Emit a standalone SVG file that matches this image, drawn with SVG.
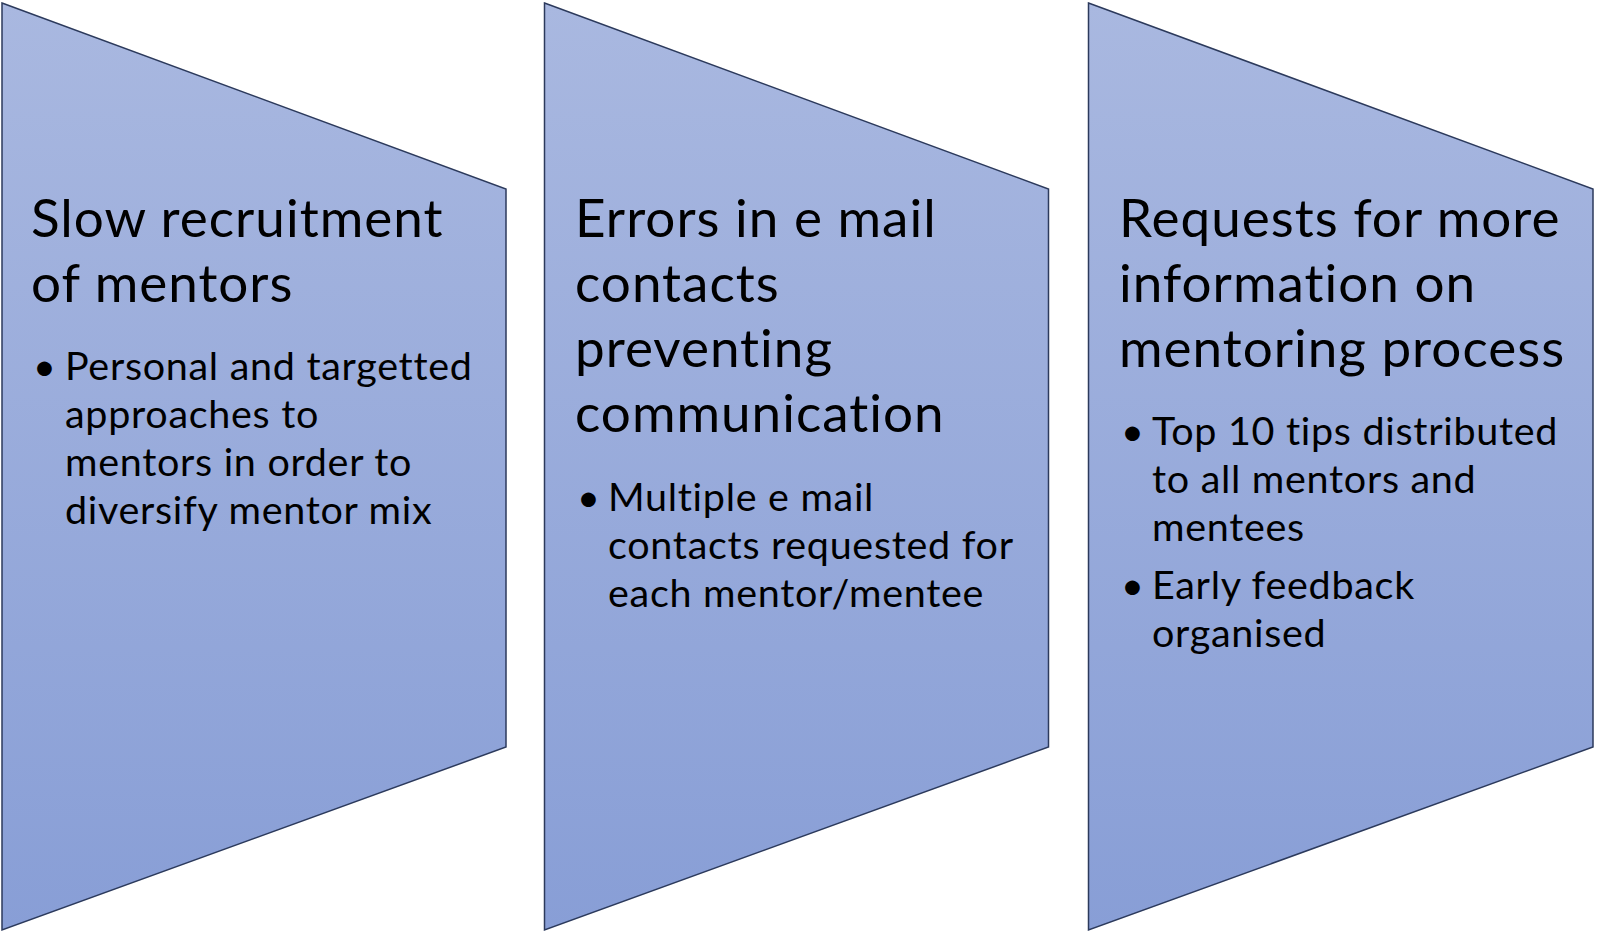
<svg xmlns="http://www.w3.org/2000/svg" width="1601" height="933" viewBox="0 0 1601 933">
  <defs>
    <linearGradient id="fillGrad" x1="0" y1="0" x2="0" y2="1">
      <stop offset="0" stop-color="#a9b8e0"/>
      <stop offset="1" stop-color="#889ed6"/>
    </linearGradient>
    <style>
      .shape { fill: url(#fillGrad); stroke: #2c3a5c; stroke-width: 1.5; stroke-linejoin: miter; }
      .title { font-family: Lato, "Liberation Sans", sans-serif; font-size: 53px; letter-spacing: 1px; fill: #000; }
      .bullet { font-family: Lato, "Liberation Sans", sans-serif; font-size: 39.5px; letter-spacing: 0.7px; fill: #000; }
    </style>
  </defs>
  <rect width="1601" height="933" fill="#ffffff"/>
  <g id="connectors"></g>
  <g id="node1">
    <polygon class="shape" points="2,3 506,189 506,747 2,930"/>
    <text class="title" x="31" y="237">Slow recruitment</text>
    <text class="title" x="31" y="302">of mentors</text>
    <text class="bullet" x="33" y="380">•</text>
    <text class="bullet" x="65" y="380">Personal and targetted</text>
    <text class="bullet" x="65" y="428">approaches to</text>
    <text class="bullet" x="65" y="476">mentors in order to</text>
    <text class="bullet" x="65" y="524">diversify mentor mix</text>
  </g>
  <g id="node2">
    <polygon class="shape" points="544.5,3 1048.5,189 1048.5,747 544.5,930"/>
    <text class="title" x="575" y="237">Errors in e mail</text>
    <text class="title" x="575" y="302">contacts</text>
    <text class="title" x="575" y="367">preventing</text>
    <text class="title" x="575" y="432">communication</text>
    <text class="bullet" x="577" y="511">•</text>
    <text class="bullet" x="608" y="511">Multiple e mail</text>
    <text class="bullet" x="608" y="559">contacts requested for</text>
    <text class="bullet" x="608" y="607">each mentor/mentee</text>
  </g>
  <g id="node3">
    <polygon class="shape" points="1088.5,3 1593,189 1593,747 1088.5,930"/>
    <text class="title" x="1119" y="237">Requests for more</text>
    <text class="title" x="1119" y="302">information on</text>
    <text class="title" x="1119" y="367">mentoring process</text>
    <text class="bullet" x="1121" y="445">•</text>
    <text class="bullet" x="1152" y="445">Top 10 tips distributed</text>
    <text class="bullet" x="1152" y="493">to all mentors and</text>
    <text class="bullet" x="1152" y="541">mentees</text>
    <text class="bullet" x="1121" y="599">•</text>
    <text class="bullet" x="1152" y="599">Early feedback</text>
    <text class="bullet" x="1152" y="647">organised</text>
  </g>
</svg>
